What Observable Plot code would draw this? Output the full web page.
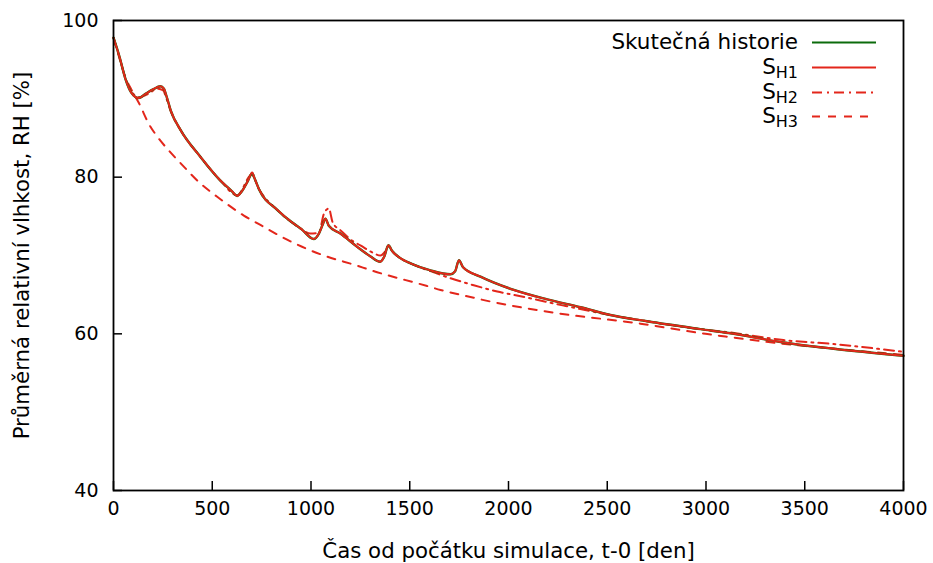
<!DOCTYPE html>
<html>
<head>
<meta charset="utf-8">
<script src="https://cdn.jsdelivr.net/npm/d3@7"></script>
<script src="https://cdn.jsdelivr.net/npm/@observablehq/plot@0.6"></script>
<style>
  html, body { margin: 0; padding: 0; background: #fff; }
  #chart { position: relative; width: 933px; height: 563px; font-family: "DejaVu Sans", sans-serif; }
  #legend { position: absolute; right: 57px; top: 30px; display: grid;
            grid-template-columns: auto 64px; column-gap: 14px; row-gap: 0;
            font-size: 21.5px; color: #000; }
  #legend .lab { text-align: right; height: 24.8px; line-height: 24.8px; white-space: nowrap; }
  #legend .lab sub { font-size: 16px; vertical-align: -4px; line-height: 0; }
  #legend svg { display: block; height: 24.8px; }
</style>
</head>
<body>
<div id="chart"></div>
<script>
// Colours of the series
const COLOR_HIST = "#0b6b0b";
const COLOR_SIM = "#e3261b";

// Skutečná historie (measured history): time [days], mean RH [%]
const histDays = [0, 30, 61, 90, 128, 160, 200, 238, 255, 270, 290, 340, 440, 540, 600, 626, 650, 680, 702, 715, 736, 830, 900, 950, 1014, 1040, 1060, 1073, 1090, 1149, 1234, 1300, 1350, 1370, 1392, 1410, 1450, 1504, 1605, 1706, 1730, 1749, 1770, 1858, 2027, 2196, 2365, 2516, 2702, 2972, 3115, 3392, 3646, 4000];
const histRH   = [97.8, 95.4, 92.5, 90.8, 90.1, 90.6, 91.2, 91.6, 91.3, 90.2, 88.5, 86.0, 82.6, 79.6, 78.2, 77.6, 78.2, 79.5, 80.5, 79.8, 78.5, 75.8, 74.3, 73.4, 72.1, 72.8, 74.0, 74.7, 73.8, 72.8, 71.1, 69.9, 69.2, 69.8, 71.3, 70.6, 69.7, 69.0, 68.1, 67.6, 68.0, 69.4, 68.5, 67.3, 65.6, 64.4, 63.4, 62.4, 61.6, 60.6, 60.1, 58.9, 58.1, 57.2];

// S_H1 simulation
const sh1Days = [0, 30, 61, 90, 128, 160, 200, 238, 255, 270, 290, 340, 440, 540, 600, 626, 650, 680, 702, 715, 736, 830, 900, 950, 1014, 1040, 1060, 1073, 1090, 1149, 1234, 1300, 1350, 1370, 1392, 1410, 1450, 1504, 1605, 1706, 1730, 1749, 1770, 1858, 2027, 2196, 2365, 2516, 2702, 2972, 3115, 3392, 3646, 4000];
const sh1RH   = [97.8, 95.4, 92.5, 90.8, 90.1, 90.6, 91.2, 91.6, 91.3, 90.2, 88.5, 86.0, 82.6, 79.6, 78.2, 77.6, 78.2, 79.5, 80.6, 79.8, 78.5, 75.8, 74.3, 73.4, 72.1, 72.8, 74.0, 74.7, 73.8, 72.8, 71.1, 69.9, 69.2, 69.8, 71.3, 70.6, 69.7, 69.0, 68.1, 67.6, 68.0, 69.4, 68.5, 67.3, 65.6, 64.4, 63.4, 62.4, 61.6, 60.6, 60.1, 58.9, 58.1, 57.2];

// S_H2 simulation
const sh2Days = [0, 30, 61, 90, 128, 180, 220, 250, 270, 290, 340, 440, 540, 626, 700, 736, 830, 950, 997, 1040, 1065, 1090, 1110, 1150, 1208, 1250, 1310, 1352, 1375, 1392, 1410, 1450, 1504, 1605, 1706, 1824, 1943, 2061, 2280, 2516, 2702, 2972, 3115, 3392, 3646, 4000];
const sh2RH   = [97.8, 95.3, 92.6, 91.0, 90.2, 90.7, 91.3, 91.1, 89.9, 88.4, 86.0, 82.6, 79.6, 77.7, 80.3, 78.5, 75.8, 73.4, 72.8, 72.9, 75.3, 76.0, 74.2, 73.2, 71.9, 71.3, 70.4, 70.0, 70.5, 71.2, 70.6, 69.7, 69.0, 68.0, 67.1, 66.2, 65.4, 64.8, 63.6, 62.4, 61.6, 60.6, 60.2, 59.2, 58.7, 57.7];

// S_H3 simulation
const sh3Days = [0, 30, 61, 90, 128, 179, 230, 280, 339, 440, 525, 660, 744, 896, 1065, 1234, 1293, 1588, 1656, 1824, 1858, 2230, 2668, 2997, 3115, 3400, 3700, 4000];
const sh3RH   = [97.8, 95.2, 92.7, 91.2, 89.5, 86.8, 84.9, 83.4, 81.8, 79.2, 77.5, 75.1, 73.9, 71.8, 70.0, 68.7, 68.2, 66.1, 65.6, 64.6, 64.4, 62.7, 61.3, 60.0, 59.6, 58.7, 58.0, 57.3];

// Axis ticks and titles
const xTicks = [0, 500, 1000, 1500, 2000, 2500, 3000, 3500, 4000];
const yTicks = [40, 60, 80, 100];
const xTitle = "Čas od počátku simulace, t-0 [den]";
const yTitle = "Průměrná relativní vlhkost, RH [%]";

const toRows = (days, rh) => days.map((d, i) => ({day: d, rh: rh[i]}));

const plot = Plot.plot({
  width: 933,
  height: 563,
  marginLeft: 113,
  marginRight: 30,
  marginTop: 20,
  marginBottom: 73,
  style: {fontFamily: "DejaVu Sans, sans-serif", fontSize: "20px", color: "#000", background: "#fff"},
  x: {domain: [0, 4000]},
  y: {domain: [40, 100]},
  marks: [
    // inward tick marks
    Plot.axisX({ticks: xTicks, tickSize: -9, text: null, strokeWidth: 1.5, label: null}),
    Plot.axisY({ticks: yTicks, tickSize: -9, text: null, strokeWidth: 1.5, label: null}),
    // tick labels
    Plot.axisX({ticks: xTicks, tickFormat: d => String(d), tickSize: 0, tickPadding: 11, fontSize: 19, label: null}),
    Plot.axisY({ticks: yTicks, tickFormat: d => String(d), tickSize: 0, tickPadding: 15, fontSize: 19, label: null}),
    // axis titles
    Plot.text([xTitle], {frameAnchor: "bottom", dy: 61, lineAnchor: "middle", textAnchor: "middle", fontSize: 21.3, fill: "#000"}),
    Plot.text([yTitle], {frameAnchor: "left", dx: -91, rotate: -90, lineAnchor: "middle", textAnchor: "middle", fontSize: 21.3, fill: "#000"}),
    // series
    Plot.line(toRows(sh3Days, sh3RH), {x: "day", y: "rh", stroke: COLOR_SIM, strokeWidth: 2, strokeDasharray: "8,8", curve: "monotone-x"}),
    Plot.line(toRows(sh2Days, sh2RH), {x: "day", y: "rh", stroke: COLOR_SIM, strokeWidth: 2, strokeDasharray: "10,5,2,5", curve: "monotone-x"}),
    Plot.line(toRows(histDays, histRH), {x: "day", y: "rh", stroke: COLOR_HIST, strokeWidth: 2.4, curve: "monotone-x"}),
    Plot.line(toRows(sh1Days, sh1RH), {x: "day", y: "rh", stroke: COLOR_SIM, strokeWidth: 2, curve: "monotone-x"}),
    Plot.frame({stroke: "#000", strokeWidth: 1.8})
  ]
});

const chart = document.getElementById("chart");
chart.appendChild(plot);

// Legend in the upper-right corner of the plot area
const legendItems = [
  {label: "Skutečná historie", sub: null, color: COLOR_HIST, dash: null},
  {label: "S", sub: "H1", color: COLOR_SIM, dash: null},
  {label: "S", sub: "H2", color: COLOR_SIM, dash: "10,5,2,5"},
  {label: "S", sub: "H3", color: COLOR_SIM, dash: "8,8"}
];
const legend = document.createElement("div");
legend.id = "legend";
for (const item of legendItems) {
  const lab = document.createElement("div");
  lab.className = "lab";
  lab.textContent = item.label;
  if (item.sub) {
    const s = document.createElement("sub");
    s.textContent = item.sub;
    lab.appendChild(s);
  }
  legend.appendChild(lab);
  const svg = d3.create("svg").attr("width", 64).attr("height", 24.8);
  svg.append("line").attr("x1", 0).attr("x2", 64).attr("y1", 12.4).attr("y2", 12.4)
    .attr("stroke", item.color).attr("stroke-width", 2)
    .attr("stroke-dasharray", item.dash);
  legend.appendChild(svg.node());
}
chart.appendChild(legend);
</script>
</body>
</html>
